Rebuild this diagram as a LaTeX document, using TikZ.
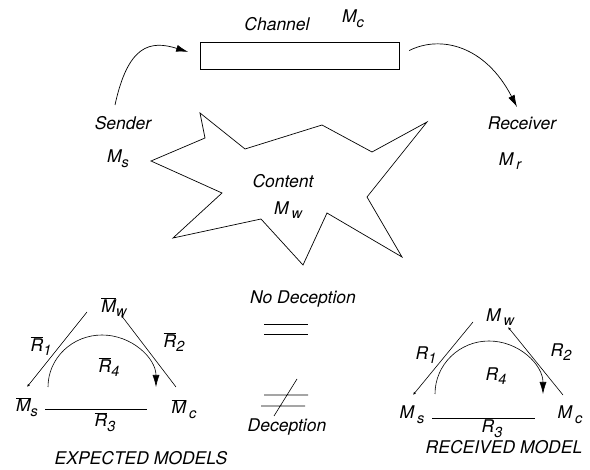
\documentclass[tikz,border=0pt]{standalone}
\usepackage{fontspec}
\setmainfont{TeX Gyre Heros}
\usetikzlibrary{arrows.meta,positioning}
\newcommand{\sbs}[1]{\raisebox{-0.5ex}{\fontsize{14.5}{16}\selectfont #1}}
\newcommand{\ovl}[1]{$\overline{\mbox{#1}}$}

\begin{document}
\begin{tikzpicture}[
  x=1pt, y=-1pt,
  font=\fontsize{17.5}{21}\selectfont\itshape,
  lbl/.style={inner sep=1pt},
  chanbox/.style={draw, line width=0.8pt, minimum width=199pt, minimum height=27pt, inner sep=0pt},
  arr/.style={-{Latex[length=12pt,width=7pt]}, line width=0.7pt},
  rel/.style={line width=0.6pt},
  relarr/.style={rel, -{Latex[length=3pt,width=2.5pt]}}
]
\useasboundingbox (0,0) rectangle (590,470);

% channel, sender, receiver
\node[chanbox] (chan) at (299.5,55.5) {};
\node[lbl] (chanlbl) at (277,24) {Channel};
\node[lbl] (mc) at (353,19) {M\sbs{c}};
\node[lbl] (sender) at (123,123) {Sender};
\node[lbl] (ms) at (118,159) {M\sbs{s}};
\node[lbl] (receiver) at (522,123) {Receiver};
\node[lbl] (mr) at (510,161) {M\,\sbs{r}};
\coordinate (sfoot) at (115,105);
\coordinate (rtip) at (517,107);
\draw[arr, shorten >=12pt] (sfoot) .. controls (128,45) and (150,40) .. (chan.west);
\draw[arr, shorten <=11pt] (chan.east) .. controls (440,35) and (485,45) .. (rtip);

% content
\draw[line width=0.7pt] (200,113) -- (205,138) -- (151,161) -- (222,193) -- (173,238)
  -- (261,219) -- (303,265) -- (327,213) -- (402,257) -- (367,197) -- (427,122)
  -- (372,152) -- (322,125) -- (245,149) -- cycle;
\node[lbl] (content) at (283,181) {Content};
\node[lbl] (mw) at (288,210) {M\,\sbs{w}};

% expected models
\node[lbl] (emw) at (114,307) {\ovl{M}\sbs{w}};
\node[lbl] (ems) at (27,407) {\ovl{M}\sbs{s}};
\node[lbl] (emc) at (184,409) {\ovl{M}\,\sbs{c}};
\node[lbl] (er1) at (41,346) {\ovl{R}\sbs{1}};
\node[lbl] (er2) at (174,342) {\ovl{R}\sbs{2}};
\node[lbl] (er4) at (109,367) {\ovl{R}\sbs{4}};
\node[lbl] (er3) at (105,422) {\ovl{R}\sbs{3}};
\coordinate (e1a) at (87,312);  \coordinate (e1b) at (27,387);
\coordinate (e2a) at (121,315); \coordinate (e2b) at (176,387);
\coordinate (e3a) at (45,409);  \coordinate (e3b) at (147,409);
\coordinate (e4a) at (48,387);
\draw[relarr] (e1a) -- (e1b);
\draw[relarr] (e2b) -- (e2a);
\draw[rel] (e3a) -- (e3b);
\draw[arr, line width=0.6pt] (e4a) arc[start angle=180, end angle=0, x radius=54pt, y radius=52pt];
\node[lbl] (expl) at (141,458) {EXPECTED MODELS};

% deception signs
\node[lbl] (nodec) at (303,299) {No Deception};
\draw[rel] (264,324) -- (308,324) (264,334) -- (308,334);
\draw[rel] (264,395) -- (308,395) (261,406) -- (305,406) (297,379) -- (274,416);
\node[lbl] (dec) at (287,427) {Deception};

% received model
\node[lbl] (rmw) at (500,317) {M\,\sbs{w}};
\node[lbl] (rms) at (412,415) {M\,\sbs{s}};
\node[lbl] (rmc) at (570,415) {M\,\sbs{c}};
\node[lbl] (rr1) at (426,355) {R\sbs{1}};
\node[lbl] (rr2) at (561,352) {R\sbs{2}};
\node[lbl] (rr4) at (496,376) {R\sbs{4}};
\node[lbl] (rr3) at (492,429) {R\sbs{3}};
\coordinate (r1a) at (473,322); \coordinate (r1b) at (413,395);
\coordinate (r2a) at (508,327); \coordinate (r2b) at (563,395);
\coordinate (r3a) at (432,418); \coordinate (r3b) at (535,418);
\coordinate (r4a) at (435,394);
\draw[relarr] (r1a) -- (r1b);
\draw[relarr] (r2b) -- (r2a);
\draw[rel] (r3a) -- (r3b);
\draw[arr, line width=0.6pt] (r4a) arc[start angle=180, end angle=0, x radius=54pt, y radius=53pt];
\node[lbl] (recl) at (504,447) {RECEIVED MODEL};
\end{tikzpicture}
\end{document}
